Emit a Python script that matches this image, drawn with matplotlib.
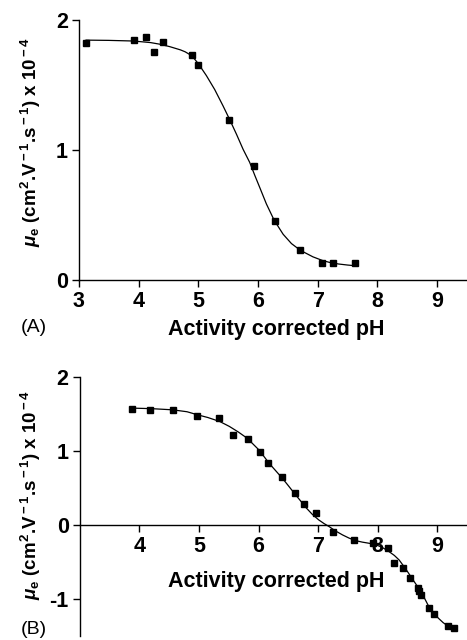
import numpy as np
import matplotlib
matplotlib.use('Agg')
import matplotlib.pyplot as plt

plt.rcParams['font.family'] = ['Liberation Sans', 'DejaVu Sans']
plt.rcParams['mathtext.fontset'] = 'custom'
plt.rcParams['mathtext.rm'] = 'Liberation Sans:bold'
plt.rcParams['mathtext.it'] = 'Liberation Sans:italic:bold'
plt.rcParams['mathtext.bf'] = 'Liberation Sans:bold'
plt.rcParams['axes.unicode_minus'] = False

# Panel A: measured points
ph_a = [3.12, 3.92, 4.12, 4.25, 4.40, 4.89, 4.99, 5.52, 5.93, 6.28, 6.71, 7.07, 7.26, 7.62]
mu_a = [1.82, 1.845, 1.87, 1.75, 1.83, 1.73, 1.655, 1.23, 0.877, 0.457, 0.234, 0.134, 0.134, 0.13]
# Panel A: fitted curve
fit_ph_a = [3.12, 3.50, 3.92, 4.20, 4.35, 4.52, 4.70, 4.78, 4.86, 4.93, 5.00, 5.135, 5.274, 5.413,
            5.525, 5.64, 5.75, 5.86, 5.95, 6.03, 6.14, 6.27, 6.42, 6.56, 6.71, 6.92, 7.08, 7.20,
            7.35, 7.50, 7.62]
fit_mu_a = [1.845, 1.843, 1.838, 1.826, 1.814, 1.795, 1.770, 1.755, 1.733, 1.703, 1.664, 1.572, 1.465, 1.340,
            1.234, 1.120, 1.005, 0.905, 0.800, 0.710, 0.585, 0.460, 0.352, 0.280, 0.228, 0.178, 0.150, 0.135,
            0.123, 0.115, 0.110]

# Panel B: measured points
ph_b = [3.88, 4.17, 4.57, 4.97, 5.33, 5.57, 5.83, 6.03, 6.16, 6.39, 6.61, 6.76, 6.97, 7.25, 7.60,
        7.92, 8.17, 8.28, 8.42, 8.55, 8.68, 8.69, 8.73, 8.86, 8.95, 9.18, 9.29]
mu_b = [1.568, 1.554, 1.545, 1.477, 1.437, 1.22, 1.158, 0.99, 0.833, 0.653, 0.428, 0.288, 0.166,
        -0.099, -0.198, -0.243, -0.306, -0.509, -0.577, -0.712, -0.847, -0.89, -0.95, -1.126,
        -1.207, -1.36, -1.396]
# Panel B: fitted curve
fit_ph_b = [3.88, 4.20, 4.56, 4.80, 4.98, 5.15, 5.35, 5.51, 5.66, 5.81, 6.01, 6.18, 6.29, 6.40,
            6.50, 6.60, 6.70, 6.79, 6.90, 7.01, 7.10, 7.18, 7.29, 7.41, 7.52, 7.63, 7.74, 7.85,
            7.94, 8.02, 8.10, 8.19, 8.28, 8.36, 8.44, 8.52, 8.60, 8.69, 8.78, 8.86, 8.94, 9.02,
            9.10, 9.19, 9.28]
fit_mu_b = [1.577, 1.570, 1.554, 1.528, 1.486, 1.450, 1.396, 1.330, 1.255, 1.170, 1.010, 0.830, 0.730, 0.630,
            0.530, 0.428, 0.330, 0.239, 0.145, 0.068, 0.018, -0.020, -0.080, -0.135, -0.178, -0.212, -0.232, -0.247,
            -0.262, -0.284, -0.315, -0.360, -0.412, -0.473, -0.560, -0.653, -0.750, -0.856, -0.980, -1.104, -1.190, -1.260,
            -1.320, -1.370, -1.395]

xticks_a = [3, 4, 5, 6, 7, 8, 9]
xticks_b = [4, 5, 6, 7, 8, 9]
yticks_a = [0, 1, 2]
yticks_b = [-1, 0, 1, 2]

ylabel = r'$\mu_{\rm e}$ (cm$^{\rm 2}$.V$^{\rm -1}$.s$^{\rm -1}$) x 10$^{\rm -4}$'
xlabel = 'Activity corrected pH'


def style_axes(ax):
    for side in ['top', 'right']:
        ax.spines[side].set_visible(False)
    for side in ['left', 'bottom']:
        ax.spines[side].set_linewidth(1.0)
    ax.tick_params(direction='out', length=5, width=1.0, labelsize=15.5, pad=3)
    for lab in ax.get_xticklabels() + ax.get_yticklabels():
        lab.set_fontweight('bold')


fig = plt.figure(figsize=(4.67, 6.4), dpi=100)

# Panel A
ax1 = fig.add_axes([0.169, 0.5625, 0.831, 0.4063])
ax1.plot(fit_ph_a, fit_mu_a, color='black', linewidth=0.9)
ax1.plot(ph_a, mu_a, linestyle='none', marker='s', markersize=4.5, color='black')
ax1.set_xlim(3, 9.5)
ax1.set_ylim(0, 2)
ax1.set_xticks(xticks_a)
ax1.set_yticks(yticks_a)
style_axes(ax1)
fig.text(31 / 467, 1 - 142 / 640, ylabel, fontsize=13.5, fontweight='bold', rotation=90,
         ha='center', va='center')
fig.text(276 / 467, 1 - 330 / 640, xlabel, fontsize=15.5, fontweight='bold', ha='center', va='center')
fig.text(34 / 467, 1 - 327 / 640, '(A)', fontsize=14, ha='center', va='center')

# Panel B
ax2 = fig.add_axes([0.171, 0.00625, 0.829, 0.405])
ax2.plot(fit_ph_b, fit_mu_b, color='black', linewidth=0.9)
ax2.plot(ph_b, mu_b, linestyle='none', marker='s', markersize=4.5, color='black')
ax2.set_xlim(3, 9.5)
ax2.set_ylim(-1.5, 2)
ax2.spines['bottom'].set_position(('data', 0))
ax2.set_xticks(xticks_b)
ax2.set_yticks(yticks_b)
style_axes(ax2)
fig.text(31 / 467, 1 - 495 / 640, ylabel, fontsize=13.5, fontweight='bold', rotation=90,
         ha='center', va='center')
fig.text(276 / 467, 1 - 582 / 640, xlabel, fontsize=15.5, fontweight='bold', ha='center', va='center')
fig.text(34 / 467, 1 - 630 / 640, '(B)', fontsize=14, ha='center', va='center')

plt.savefig('out.png', dpi=100)
